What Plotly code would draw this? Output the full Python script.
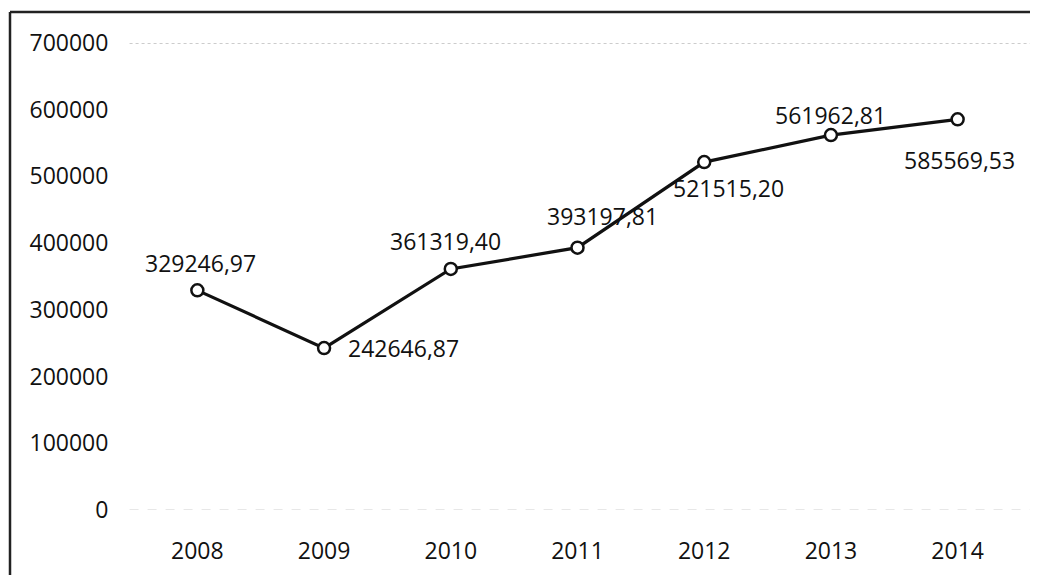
import plotly.graph_objects as go

years = ["2008", "2009", "2010", "2011", "2012", "2013", "2014"]
values = [329246.97, 242646.87, 361319.40, 393197.81, 521515.20, 561962.81, 585569.53]
y_ticks = [0, 100000, 200000, 300000, 400000, 500000, 600000, 700000]

# label offsets in pixels (style only)
label_dx = [3, 79, -5, 25, 24, 0, 2]
label_dy = [27, 0, 28, 32, -26, 20, -41]

FONT = "Open Sans"
TXT = "#111111"
OFF = 8  # default page body margin

def fmt(v):
    return f"{v:.2f}".replace(".", ",")

fig = go.Figure()
fig.add_trace(go.Scatter(
    x=years, y=values, mode="lines+markers",
    line=dict(color="#111111", width=3.2),
    marker=dict(symbol="circle", size=12, color="white",
                line=dict(color="#111111", width=2.5)),
    hoverinfo="skip", showlegend=False,
))

annotations = []
for i, (v, dx, dy) in enumerate(zip(values, label_dx, label_dy)):
    annotations.append(dict(x=i, y=v, xref="x", yref="y", text=fmt(v),
                            showarrow=False, xanchor="center", yanchor="middle",
                            xshift=dx, yshift=dy,
                            font=dict(family=FONT, size=23, color=TXT)))

FW, FH = 1038 - OFF, 575 - OFF
L, T, B, R = 134 - OFF, 43 - OFF, 575 - 510, 17
W = FW - L - R
H = FH - T - B
xl = (10 - 134) / W
yt = (510 - 12) / H

shapes = [
    dict(type="line", xref="paper", yref="y", x0=-0.005, x1=1.01,
         y0=700000, y1=700000, line=dict(color="#9a9a9a", width=1.2, dash="dot")),
    dict(type="line", xref="paper", yref="y", x0=-0.005, x1=1.01,
         y0=0, y1=0, line=dict(color="#d0d0d0", width=1.2, dash="dash")),
    dict(type="line", xref="paper", yref="paper", x0=xl, x1=xl,
         y0=yt, y1=-0.2, line=dict(color="#222222", width=2.5)),
    dict(type="line", xref="paper", yref="paper", x0=xl, x1=1.1,
         y0=yt, y1=yt, line=dict(color="#222222", width=2.5)),
]

fig.update_layout(
    width=FW, height=FH,
    margin=dict(l=L, r=R, t=T, b=B, autoexpand=False),
    paper_bgcolor="white", plot_bgcolor="white",
    font=dict(family=FONT, size=23, color=TXT),
    annotations=annotations,
    shapes=shapes,
    xaxis=dict(type="category", range=[-0.5, 6.5], showgrid=False,
               zeroline=False, showline=False, automargin=False,
               ticks="outside", ticklen=20, tickcolor="rgba(0,0,0,0)",
               tickfont=dict(family=FONT, size=23, color=TXT)),
    yaxis=dict(range=[0, 700000], tickvals=y_ticks,
               ticktext=[str(v) for v in y_ticks],
               showgrid=False, zeroline=False, showline=False, automargin=False,
               ticks="outside", ticklen=20, tickcolor="rgba(0,0,0,0)",
               tickfont=dict(family=FONT, size=23, color=TXT)),
)

fig.write_html("out.html")
